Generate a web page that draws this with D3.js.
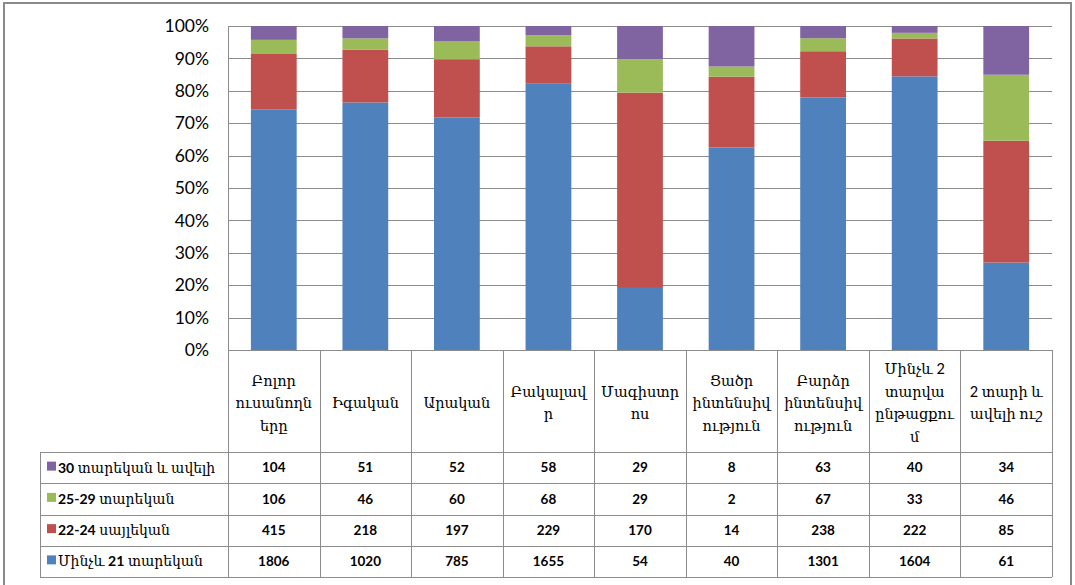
<!DOCTYPE html>
<html><head><meta charset="utf-8">
<script src="https://cdn.jsdelivr.net/npm/d3@7"></script>
<style>body{margin:0;background:#fff}svg{display:block}</style>
</head><body>
<svg id="c" width="1075" height="585"></svg>
<script>
const categories = [
  ["Բոլոր","ուսանողն","երը"],
  ["Իգական"],
  ["Արական"],
  ["Բակալավ","ր"],
  ["Մագիստր","ոս"],
  ["Ցածր","ինտենսիվ","ություն"],
  ["Բարձր","ինտենսիվ","ություն"],
  ["Մինչև 2","տարվա","ընթացքու","մ"],
  ["2 տարի և","ավելի ուշ"]
];
const seriesNames = ["Մինչև 21 տարեկան","22-24 սայլեկան","25-29 տարեկան","30 տարեկան և ավելի"];
const seriesColors = ["#4F81BD","#C0504D","#9BBB59","#8064A2"];
const under21 = [1806,1020,785,1655,54,40,1301,1604,61];
const age22_24 = [415,218,197,229,170,14,238,222,85];
const age25_29 = [106,46,60,68,29,2,67,33,46];
const age30plus = [104,51,52,58,29,8,63,40,34];
const tickLabels = ["0%","10%","20%","30%","40%","50%","60%","70%","80%","90%","100%"];

(function(){
const series = [under21, age22_24, age25_29, age30plus];
const svg = d3.select("#c");
const pLeft = 228, pRight = 1052, pTop = 26, pBottom = 350;
const headerBottom = 452, tableBottom = 577, legendLeft = 40;
const rowH = (tableBottom - headerBottom) / 4;
const grid = "#8c8c8c";

svg.append("rect").attr("x",4).attr("y",3).attr("width",1067).attr("height",585)
  .attr("fill","none").attr("stroke","#8a8a8a").attr("stroke-width",2);

const idx = d3.range(categories.length);
const x = d3.scaleBand().domain(idx).range([pLeft,pRight]).paddingInner(0.5).paddingOuter(0.25);
const xCol = d3.scaleBand().domain(idx).range([pLeft,pRight]);
const y = d3.scaleLinear().domain([0,1]).range([pBottom,pTop]);

const ticks = d3.range(0,1.0001,0.1);
svg.append("g").selectAll("line").data(ticks).join("line")
  .attr("x1",pLeft).attr("x2",pRight)
  .attr("y1",d=>Math.round(y(d))+0.5).attr("y2",d=>Math.round(y(d))+0.5)
  .attr("stroke",grid).attr("stroke-width",1);

const rows = idx.map(i=>{const o={i}; series.forEach((s,k)=>o[k]=s[i]); return o;});
const stack = d3.stack().keys(d3.range(series.length)).offset(d3.stackOffsetExpand);
const stacked = stack(rows);
svg.append("g").selectAll("g").data(stacked).join("g")
  .attr("fill",(d,k)=>seriesColors[k])
  .selectAll("rect").data(d=>d).join("rect")
  .attr("x",d=>x(d.data.i)).attr("width",x.bandwidth())
  .attr("y",d=>y(d[1])).attr("height",d=>y(d[0])-y(d[1]));

const yAxis = d3.axisLeft(y).tickValues(ticks).tickFormat((d,i)=>tickLabels[i]).tickSize(0).tickPadding(19);
const ga = svg.append("g").attr("transform",`translate(${pLeft},0)`).call(yAxis);
ga.select(".domain").remove();
ga.selectAll("text").attr("font-family","Lato, 'Liberation Sans', sans-serif")
  .attr("font-size",17.5).attr("fill","#000");

const tg = svg.append("g").attr("stroke",grid).attr("stroke-width",1);
idx.forEach(i=>{
  const xx = Math.round(xCol(i))+0.5;
  tg.append("line").attr("x1",xx).attr("x2",xx).attr("y1", i===0?pTop:pBottom).attr("y2",tableBottom);
});
tg.append("line").attr("x1",pRight+0.5).attr("x2",pRight+0.5).attr("y1",pBottom).attr("y2",tableBottom);
tg.append("line").attr("x1",legendLeft+0.5).attr("x2",legendLeft+0.5).attr("y1",headerBottom).attr("y2",tableBottom);
d3.range(5).forEach(r=>{
  const yy = Math.round(headerBottom + r*rowH)+0.5;
  tg.append("line").attr("x1",legendLeft).attr("x2",pRight).attr("y1",yy).attr("y2",yy);
});

const armFont = "'DejaVu Serif', serif";
const lh = 22.5;
categories.forEach((lines,i)=>{
  const cx = xCol(i) + xCol.bandwidth()/2;
  const cy = (pBottom + headerBottom)/2 + 2;
  const t = svg.append("text").attr("text-anchor","middle").attr("font-family","Lato, "+armFont)
    .attr("font-size",14.5).attr("fill","#000");
  lines.forEach((ln,j)=>{
    t.append("tspan").attr("x",cx).attr("y",cy + (j-(lines.length-1)/2)*lh).attr("dy","0.35em").text(ln);
  });
});

const order = [3,2,1,0];
order.forEach((k,r)=>{
  const cy = headerBottom + r*rowH + rowH/2;
  svg.append("rect").attr("x",47).attr("y",cy-6).attr("width",9).attr("height",9).attr("fill",seriesColors[k]);
  const t = svg.append("text").attr("x",58).attr("y",cy).attr("dy","0.35em")
    .attr("font-family","Lato, "+armFont).attr("font-size",14).attr("fill","#000");
  // digits bold, Armenian words regular (as in the reference)
  const parts = seriesNames[k].match(/[0-9\-]+|[^0-9\-]+/g);
  parts.forEach(p=>{
    t.append("tspan").attr("font-weight", /[0-9]/.test(p) ? "bold" : "normal").text(p);
  });
  series[k].forEach((v,i)=>{
    svg.append("text").attr("x",xCol(i)+xCol.bandwidth()/2).attr("y",cy).attr("dy","0.35em")
      .attr("text-anchor","middle").attr("font-family","Lato, 'Liberation Sans', sans-serif")
      .attr("font-weight","bold").attr("font-size",13.5).attr("fill","#000").text(v);
  });
});
})();
</script>
</body></html>
